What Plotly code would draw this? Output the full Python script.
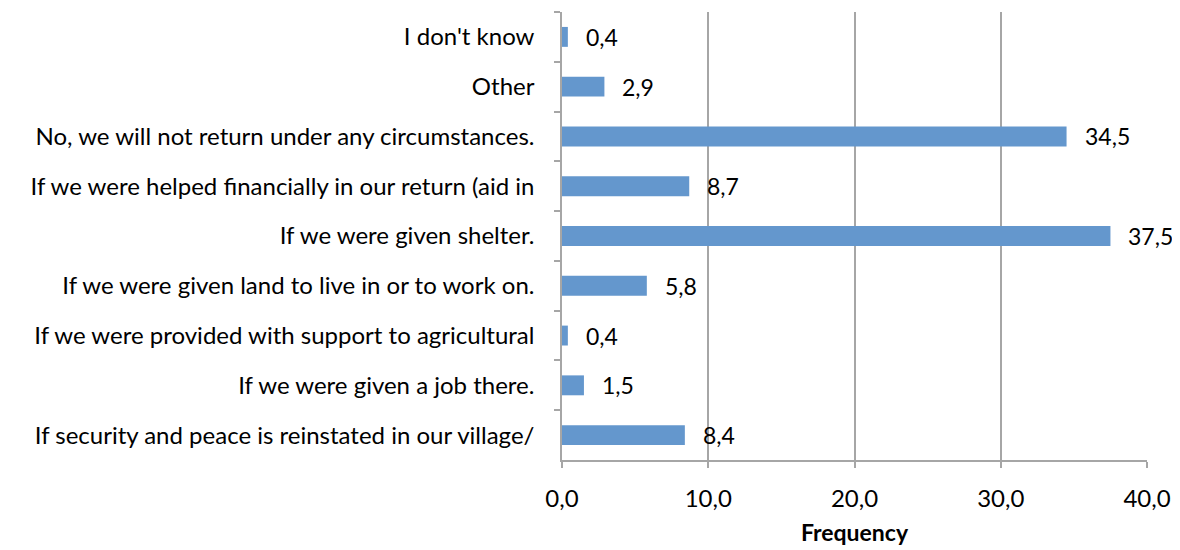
import plotly.graph_objects as go

# categories listed top to bottom as in the chart
categories = [
    "I don't know",
    "Other",
    "No, we will not return under any circumstances.",
    "If we were helped financially in our return (aid in",
    "If we were given shelter.",
    "If we were given land to live in or to work on.",
    "If we were provided with support to agricultural",
    "If we were given a job there.",
    "If security and peace is reinstated in our village/",
]
values = [0.4, 2.9, 34.5, 8.7, 37.5, 5.8, 0.4, 1.5, 8.4]
x_ticks = [0, 10, 20, 30, 40]

font = "Lato, 'Open Sans', sans-serif"
bar_color = "#6497cd"
grid_color = "#a6a6a6"

fig = go.Figure()
fig.add_trace(go.Bar(
    x=values, y=categories, orientation="h",
    marker=dict(color=bar_color, line=dict(width=0)),
    width=0.4,
))

for cat, v in zip(categories, values):
    fig.add_annotation(
        x=v, y=cat, text=f"{v:.1f}".replace(".", ","),
        xanchor="left", showarrow=False, xshift=16,
        font=dict(size=23, color="#000000", family=font),
    )

# page body adds ~8px offset, margins compensate for it
fig.update_layout(
    width=1180, height=550,
    margin=dict(l=554, r=41, t=4, b=98),
    plot_bgcolor="white", paper_bgcolor="white",
    separators=",.",
    showlegend=False,
    font=dict(family=font, size=24, color="#000000"),
    bargap=0.6,
)
fig.update_xaxes(
    range=[0, 40], tickvals=x_ticks, tickformat=".1f",
    showgrid=True, gridcolor=grid_color, gridwidth=1.5,
    showline=True, linecolor=grid_color, linewidth=1.5,
    ticks="outside", ticklen=6, tickcolor=grid_color, tickwidth=1.5,
    ticklabelstandoff=10,
    zeroline=False,
    title=dict(text="<b>Frequency</b>", font=dict(size=23), standoff=14),
)
fig.update_yaxes(
    autorange="reversed",
    showline=True, linecolor=grid_color, linewidth=1.5,
    ticks="outside", ticklen=6, tickcolor=grid_color, tickwidth=1.5,
    tickson="boundaries", showgrid=False,
    ticklabelstandoff=21,
)

fig.write_html("out.html")
